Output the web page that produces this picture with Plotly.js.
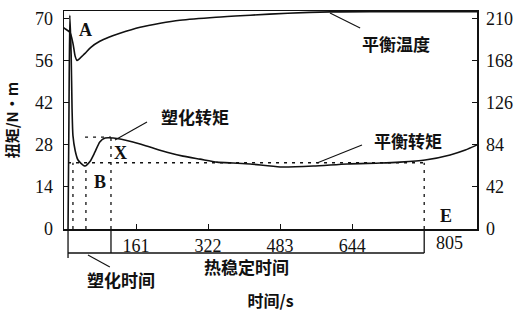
<!DOCTYPE html>
<html><head><meta charset="utf-8">
<script src="https://cdn.plot.ly/plotly-3.0.1.min.js"></script>
<style>html,body{margin:0;padding:0;background:#fff}#c{width:528px;height:315px}</style>
</head><body><div id="c"></div>
<script>
// time (s) and torque (N·m)
const torqueTime = [9, 11, 13, 16, 18, 20, 25, 31, 38, 47, 58, 69, 80, 92, 110, 154, 192, 230, 266, 304, 342, 378, 416, 483, 557, 633, 707, 751, 807, 863, 897, 923];
const torqueVal  = [0, 36, 71, 58, 40, 31, 26, 23, 21.8, 20.9, 22.4, 25.5, 28.9, 30.2, 30.2, 28.9, 27.2, 25.5, 24.2, 23.2, 22.2, 21.9, 21.6, 20.6, 20.9, 21.6, 21.9, 22.2, 22.9, 24.6, 26.2, 27.9];
// time (s) and temperature
const tempTime = [-6, 4, 13, 20, 25, 29, 33, 40, 47, 60, 80, 100, 125, 170, 215, 259, 340, 416, 500, 595, 700, 923];
const tempVal  = [202, 199, 196, 185, 172, 168, 169, 172, 175, 181, 187, 191, 195, 201, 205, 208, 211, 213, 215, 216.3, 216.6, 216.6];
// tick labels
const xTicks = [161, 322, 483, 644];
const xEnd = 805;
const yTicks = [0, 14, 28, 42, 56, 70];
const y2Ticks = [0, 42, 84, 126, 168, 210];
// characteristic points
const tLoad = 9, tMark1 = 20, tB = 49, tX = 105, tE = 805;
const torqueX = 30.5, torqueEq = 22, torqueB = 20.9;

const serif = 'Liberation Serif';
const cjk = 'Noto Sans CJK SC';
const blk = '#111';

const traces = [
  {x: torqueTime, y: torqueVal, type: 'scatter', mode: 'lines', line: {color: blk, width: 1.6, shape: 'spline', smoothing: 0.6}, xaxis: 'x', yaxis: 'y', hoverinfo: 'none'},
  {x: tempTime, y: tempVal, type: 'scatter', mode: 'lines', line: {color: blk, width: 1.6, shape: 'spline', smoothing: 0.8}, xaxis: 'x', yaxis: 'y2', hoverinfo: 'none'},
  {x: [tempTime[0]], y: [tempVal[0]], type: 'scatter', mode: 'markers', marker: {color: blk, size: 7}, yaxis: 'y2', cliponaxis: false, hoverinfo: 'none'}
];

const dash = {color: blk, width: 1.3, dash: '3px,5px'};
const solid = {color: blk, width: 1.3};
const shapes = [
  {type: 'line', xref: 'x', yref: 'y', x0: tLoad, x1: tE, y0: torqueEq, y1: torqueEq, line: dash},
  {type: 'line', xref: 'x', yref: 'y', x0: tB - 2, x1: tX, y0: torqueX, y1: torqueX, line: dash},
  {type: 'line', xref: 'x', yref: 'y', x0: tMark1, x1: tMark1, y0: 0, y1: torqueEq, line: dash},
  {type: 'line', xref: 'x', yref: 'y', x0: tB, x1: tB, y0: 0, y1: torqueB, line: dash},
  {type: 'line', xref: 'x', yref: 'y', x0: tX, x1: tX, y0: 0, y1: torqueX, line: dash},
  {type: 'line', xref: 'x', yref: 'y', x0: tE, x1: tE, y0: 0, y1: torqueEq, line: dash},
  // bracket below axis
  {type: 'line', xref: 'x', yref: 'paper', x0: tLoad, x1: tE, y0: -0.110, y1: -0.110, line: solid},
  {type: 'line', xref: 'x', yref: 'paper', x0: tLoad, x1: tLoad, y0: 0, y1: -0.133, line: solid},
  {type: 'line', xref: 'x', yref: 'paper', x0: tX, x1: tX, y0: 0, y1: -0.110, line: solid},
  {type: 'line', xref: 'x', yref: 'paper', x0: tE, x1: tE, y0: 0, y1: -0.110, line: solid},
  // leader lines
  {type: 'line', xref: 'paper', yref: 'paper', x0: 0.644, y0: 0.991, x1: 0.717, y1: 0.922, line: {color: blk, width: 1.1}},
  {type: 'line', xref: 'paper', yref: 'paper', x0: 0.1235, y0: 0.408, x1: 0.201, y1: 0.491, line: {color: blk, width: 1.1}},
  {type: 'line', xref: 'paper', yref: 'paper', x0: 0.6126, y0: 0.3028, x1: 0.7215, y1: 0.385, line: {color: blk, width: 1.1}},
  {type: 'line', xref: 'paper', yref: 'paper', x0: 0.058, y0: -0.119, x1: 0.111, y1: -0.174, line: {color: blk, width: 1.1}}
];

function ann(text, x, y, font) {
  return {text: text, x: x, y: y, xref: 'paper', yref: 'paper', showarrow: false, xanchor: 'center', yanchor: 'middle', font: font};
}
const cjkF = {family: cjk, size: 17, color: blk};
const letF = {family: serif, size: 18, color: blk};
const annotations = [
  ann('<b>平衡温度</b>', 0.804, 0.849, cjkF),
  ann('<b>塑化转矩</b>', 0.317, 0.514, cjkF),
  ann('<b>平衡转矩</b>', 0.833, 0.404, cjkF),
  ann('<b>塑化时间</b>', 0.138, -0.232, cjkF),
  ann('<b>热稳定时间</b>', 0.443, -0.172, cjkF),
  ann('<b>A</b>', 0.053, 0.913, letF),
  ann('<b>B</b>', 0.087, 0.216, letF),
  ann('<b>X</b>', 0.138, 0.349, letF),
  ann('<b>E</b>', 0.925, 0.060, letF),
  {text: String(xEnd), x: xEnd, y: -0.062, xref: 'x', yref: 'paper', xshift: 25, showarrow: false, xanchor: 'center', yanchor: 'middle', font: {family: serif, size: 18, color: blk}}
];

const layout = {
  width: 528, height: 315,
  margin: {l: 64, r: 51, t: 11, b: 86},
  paper_bgcolor: '#fff', plot_bgcolor: '#fff',
  showlegend: false,
  xaxis: {range: [0, 923], showgrid: false, zeroline: false, showline: true, mirror: true, linecolor: blk, linewidth: 1.5,
    tickvals: xTicks, ticktext: xTicks.map(String), ticks: 'inside', ticklen: 5, tickcolor: blk,
    tickfont: {family: serif, size: 18, color: blk}, ticklabelstandoff: 0,
    title: {text: '<b>时间/s</b>', font: {family: cjk, size: 16, color: blk}, standoff: 40}},
  yaxis: {range: [0, 72.4], showgrid: false, zeroline: false, showline: true, linecolor: blk, linewidth: 1.5,
    tickvals: yTicks, ticktext: yTicks.map(String), ticks: 'inside', ticklen: 5, tickcolor: blk,
    tickfont: {family: serif, size: 18, color: blk}, ticklabelstandoff: 6,
    title: {text: '<b>扭矩/N·m</b>', font: {family: cjk, size: 15, color: blk}, standoff: 12}},
  yaxis2: {range: [0, 217.2], overlaying: 'y', side: 'right', showgrid: false, zeroline: false, showline: true, linecolor: blk, linewidth: 1.5,
    tickvals: y2Ticks, ticktext: y2Ticks.map(String), ticks: 'inside', ticklen: 5, tickcolor: blk,
    tickfont: {family: serif, size: 18, color: blk}, ticklabelstandoff: 4},
  shapes: shapes,
  annotations: annotations
};
Plotly.newPlot('c', traces, layout, {staticPlot: true, displayModeBar: false});
</script></body></html>
